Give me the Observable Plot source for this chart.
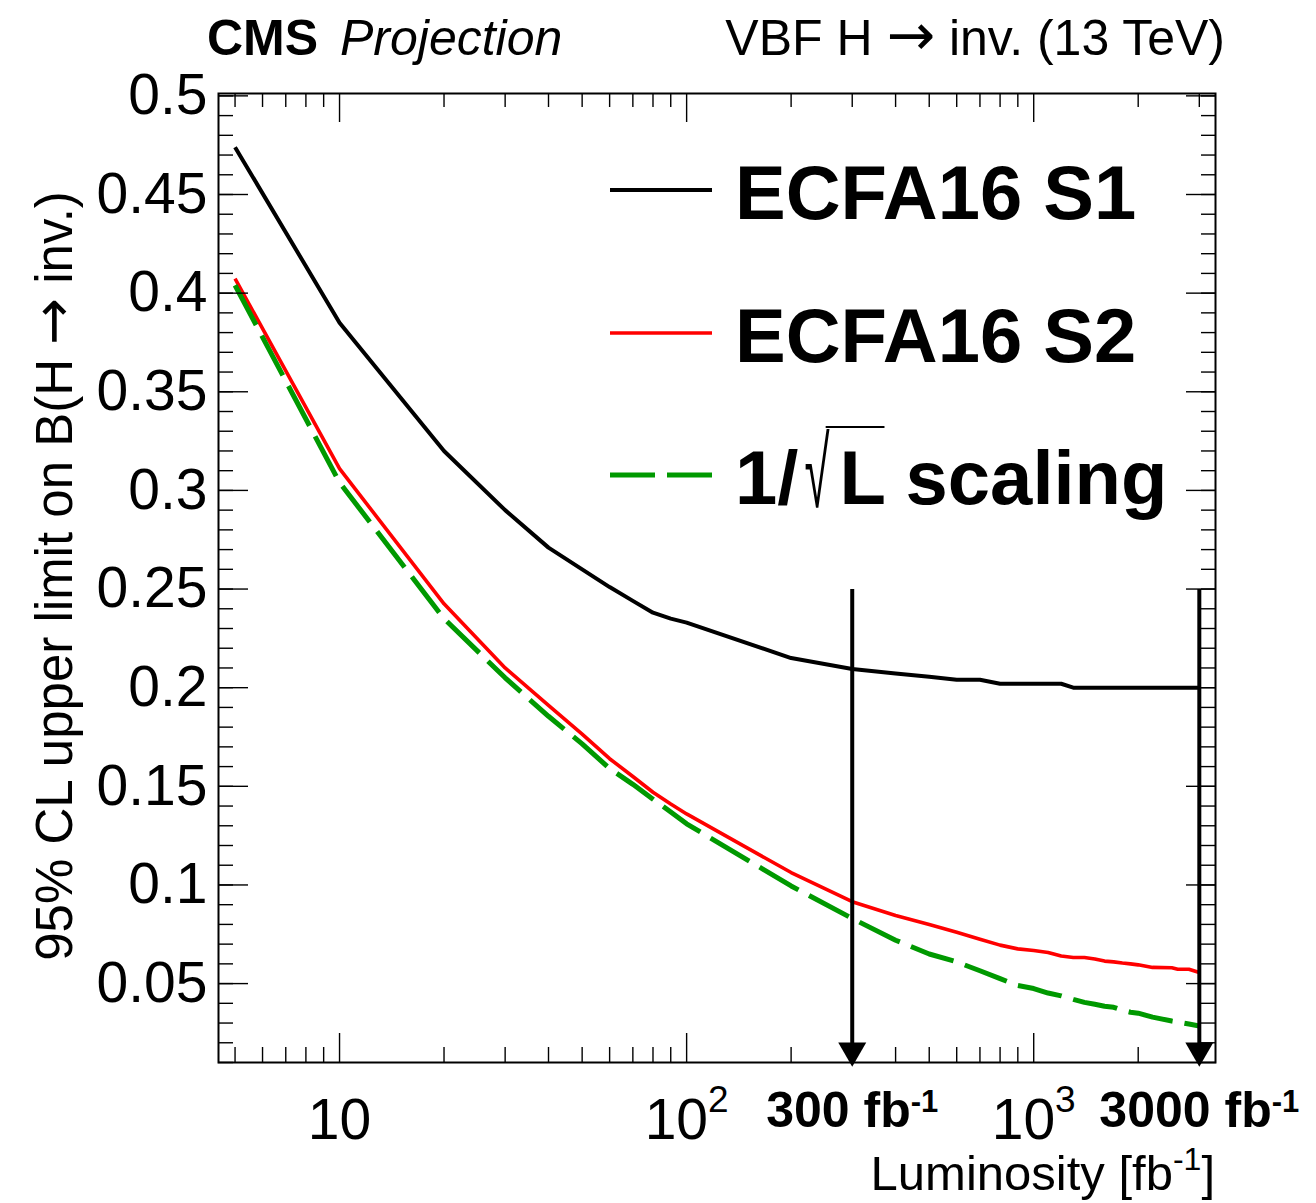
<!DOCTYPE html>
<html><head><meta charset="utf-8">
<script src="https://cdn.jsdelivr.net/npm/d3@7"></script>
<script src="https://cdn.jsdelivr.net/npm/@observablehq/plot@0.6"></script>
<style>
html,body{margin:0;padding:0;background:#fff;}
#wrap{position:relative;width:1316px;height:1203px;font-family:"Liberation Sans",Arial,Helvetica,sans-serif;}
#wrap svg{position:absolute;left:0;top:0;}
</style></head><body><div id="wrap"></div>
<script>
// ---- data ----
const lumi = [5,10,20,30,40,50,60,70,80,90,100,200,300,400,500,600,700,800,900,1000,1100,1200,1300,1400,1500,1600,1700,1800,1900,2000,2200,2500,2600,2800,3000];
const limitS1 = [0.474,0.385,0.320,0.290,0.271,0.260,0.251,0.244,0.238,0.235,0.233,0.215,0.2095,0.2072,0.2055,0.204,0.204,0.202,0.202,0.202,0.202,0.202,0.200,0.200,0.200,0.200,0.200,0.200,0.200,0.200,0.200,0.200,0.200,0.200,0.200];
const limitS2 = [0.4074,0.311,0.2425,0.210,0.191,0.1765,0.164,0.155,0.147,0.141,0.136,0.1063,0.0915,0.0845,0.080,0.076,0.0725,0.0695,0.0676,0.0668,0.0658,0.064,0.0632,0.0632,0.0625,0.0614,0.061,0.0604,0.060,0.0595,0.0582,0.058,0.0573,0.0573,0.0556];
const limitScaling = [0.404,0.304,0.235,0.205,0.1855,0.1715,0.159,0.151,0.1435,0.137,0.131,0.0995,0.083,0.072,0.065,0.061,0.0565,0.0525,0.049,0.0475,0.0452,0.0438,0.042,0.0405,0.0395,0.0385,0.038,0.0365,0.0355,0.035,0.033,0.031,0.0305,0.0295,0.0285];
const seriesNames = ["ECFA16 S1","ECFA16 S2","1/√L scaling"];
const seriesColors = ["#000000","#ff0000","#009900"];
const yMajorTicks = [0.05,0.1,0.15,0.2,0.25,0.3,0.35,0.4,0.45,0.5];
const yTickLabels = ["0.05","0.1","0.15","0.2","0.25","0.3","0.35","0.4","0.45","0.5"];
const xMajorTicks = [10,100,1000];
const xTickLabels = ["10","10²","10³"];
const xMinorTicks = [5,6,7,8,9,20,30,40,50,60,70,80,90,200,300,400,500,600,700,800,900,2000,3000];
const arrowLumi = [300,3000];
const arrowLabels = ["300 fb⁻¹","3000 fb⁻¹"];
const arrowTop = 0.25;
const yMinorTicks = d3.range(1, 51).map(i => i / 100);

// ---- tidy table ----
const rows = [];
[limitS1, limitS2, limitScaling].forEach((vals, k) =>
  vals.forEach((v, i) => rows.push({lumi: lumi[i], limit: v, series: seriesNames[k]})));

const W = 1316, H = 1203;
const FONT = '"Liberation Sans", Arial, Helvetica, sans-serif';
const ARROWFONT = '"DejaVu Sans", sans-serif';
const tickFS = 57;
const tw = 1.4;

const chart = Plot.plot({
  width: W, height: H,
  marginLeft: 218, marginRight: 101, marginTop: 93, marginBottom: 141,
  style: {fontFamily: FONT, color: "#000", background: "white", overflow: "visible"},
  x: {type: "log", domain: [4.48, 3340], label: null},
  y: {domain: [0.01, 0.5012], label: null},
  marks: [
    Plot.line(rows.filter(d => d.series === seriesNames[0]), {x: "lumi", y: "limit", stroke: seriesColors[0], strokeWidth: 4, strokeLinecap: "butt"}),
    Plot.line(rows.filter(d => d.series === seriesNames[1]), {x: "lumi", y: "limit", stroke: seriesColors[1], strokeWidth: 3.6, strokeLinecap: "butt"}),
    Plot.line(rows.filter(d => d.series === seriesNames[2]), {x: "lumi", y: "limit", stroke: seriesColors[2], strokeWidth: 5, strokeDasharray: "45,12", strokeLinecap: "butt"}),
    // axis labels
    Plot.axisY(yMajorTicks, {anchor: "left", tickSize: 0, tickPadding: 11, tickFormat: d => yTickLabels[yMajorTicks.indexOf(d)], fontSize: tickFS, label: null}),
    Plot.axisX(xMajorTicks, {anchor: "bottom", tickSize: 0, tickPadding: 36, tickFormat: d => xTickLabels[xMajorTicks.indexOf(d)], fontSize: tickFS, label: null}),
    // inward ticks on all four sides
    Plot.axisY(yMajorTicks, {anchor: "left", tickSize: 30, dx: 30, tickFormat: () => "", label: null, strokeWidth: tw}),
    Plot.axisY(yMinorTicks, {anchor: "left", tickSize: 15, dx: 15, tickFormat: () => "", label: null, strokeWidth: tw}),
    Plot.axisY(yMajorTicks, {anchor: "right", tickSize: 30, dx: -30, tickFormat: () => "", label: null, strokeWidth: tw}),
    Plot.axisY(yMinorTicks, {anchor: "right", tickSize: 15, dx: -15, tickFormat: () => "", label: null, strokeWidth: tw}),
    Plot.axisX(xMajorTicks, {anchor: "bottom", tickSize: 29, dy: -29, tickFormat: () => "", label: null, strokeWidth: tw}),
    Plot.axisX(xMinorTicks, {anchor: "bottom", tickSize: 15, dy: -15, tickFormat: () => "", label: null, strokeWidth: tw}),
    Plot.axisX(xMajorTicks, {anchor: "top", tickSize: 28, dy: 28, tickFormat: () => "", label: null, strokeWidth: tw}),
    Plot.axisX(xMinorTicks, {anchor: "top", tickSize: 13, dy: 13, tickFormat: () => "", label: null, strokeWidth: tw}),
    Plot.frame({stroke: "#000", strokeWidth: 2}),
    // luminosity markers
    Plot.link(arrowLumi, {x1: d => d, x2: d => d, y1: () => arrowTop, y2: () => 0.01, stroke: "#000", strokeWidth: 4, strokeLinecap: "butt"}),
    Plot.dot(arrowLumi, {x: d => d, y: () => 0.01, symbol: "triangle", r: 10.4, rotate: 180, fill: "#000", stroke: "none", dy: -12}),
    Plot.text(arrowLumi, {x: d => d, y: () => 0.01, text: (d, i) => arrowLabels[i], dy: 48, fontSize: 50, fontWeight: "bold", textAnchor: "middle", lineAnchor: "middle"})
  ]
});
document.getElementById("wrap").appendChild(chart);

// superscripts in library-drawn labels
d3.select(chart).selectAll("text").each(function() {
  const s = this.textContent;
  const el = d3.select(this);
  if (s === "10²" || s === "10³") {
    el.text("");
    el.append("tspan").text("10");
    el.append("tspan").attr("font-size", Math.round(tickFS * 0.65)).attr("dy", -27).text(s.endsWith("²") ? "2" : "3");
  } else if (s.endsWith("fb⁻¹")) {
    el.text("");
    el.append("tspan").text(s.replace("⁻¹", ""));
    el.append("tspan").attr("font-size", 31).attr("dy", -15).text("-1");
  }
});

// ---- overlay: titles, axis titles, legend ----
const ov = d3.select("#wrap").append("svg").attr("width", W).attr("height", H)
  .style("pointer-events", "none").attr("font-family", FONT);

ov.append("text").attr("x", 207).attr("y", 55).attr("font-size", 50).attr("font-weight", "bold").text("CMS");
ov.append("text").attr("x", 340).attr("y", 55).attr("font-size", 50).attr("font-style", "italic").text("Projection");
const tr = ov.append("text").attr("x", 1225).attr("y", 55).attr("font-size", 50).attr("text-anchor", "end");
tr.append("tspan").text("VBF H ");
tr.append("tspan").attr("font-family", ARROWFONT).attr("font-size", 58).text("→");
tr.append("tspan").text(" inv. (13 TeV)");

const yl = ov.append("text").attr("transform", "translate(72,576) rotate(-90)").attr("font-size", 51)
  .attr("text-anchor", "middle");
yl.append("tspan").text("95% CL upper limit on B(H ");
yl.append("tspan").attr("font-family", ARROWFONT).attr("font-size", 56).text("→");
yl.append("tspan").text(" inv.)");

const xl = ov.append("text").attr("x", 1215).attr("y", 1190).attr("font-size", 49).attr("text-anchor", "end");
xl.append("tspan").text("Luminosity [fb");
xl.append("tspan").attr("font-size", 32).attr("dy", -20).text("-1");
xl.append("tspan").attr("dy", 20).text("]");

// legend
const legendY = [190, 333, 475];
const legendW = [4, 3.6, 5];
const LFS = 76;
seriesNames.forEach((name, k) => {
  ov.append("line").attr("x1", 610).attr("x2", 712).attr("y1", legendY[k]).attr("y2", legendY[k])
    .attr("stroke", seriesColors[k]).attr("stroke-width", legendW[k])
    .attr("stroke-dasharray", k === 2 ? "45,12" : null);
});
ov.append("text").attr("x", 735).attr("y", legendY[0] + 29).attr("font-size", LFS).attr("font-weight", "bold").text(seriesNames[0]);
ov.append("text").attr("x", 735).attr("y", legendY[1] + 29).attr("font-size", LFS).attr("font-weight", "bold").text(seriesNames[1]);
// "1/√L scaling" with a tall thin radical and an overline
const base3 = legendY[2] + 29;
const tA = ov.append("text").attr("x", 735).attr("y", base3).attr("font-size", LFS).attr("font-weight", "bold").text("1/");
const wA = tA.node().getComputedTextLength();
const sx = 0.6, sy = 1.3;
const xR = 735 + wA + 6;
const tR = ov.append("text").attr("transform", `translate(${xR},${base3 + 3}) scale(${sx},${sy})`)
  .attr("font-size", LFS).text("√");
const wR = tR.node().getComputedTextLength() * sx;
const xL = xR + wR + 10;
const tB = ov.append("text").attr("x", xL).attr("y", base3).attr("font-size", LFS).attr("font-weight", "bold");
tB.append("tspan").text("L");
tB.append("tspan").text(" scaling");
const eL = tB.node().getExtentOfChar(0);
const olY = base3 - 77;
ov.append("line").attr("x1", xR + wR * 0.85).attr("x2", eL.x + eL.width).attr("y1", olY).attr("y2", olY)
  .attr("stroke", "#000").attr("stroke-width", 2);
</script>
</body></html>
